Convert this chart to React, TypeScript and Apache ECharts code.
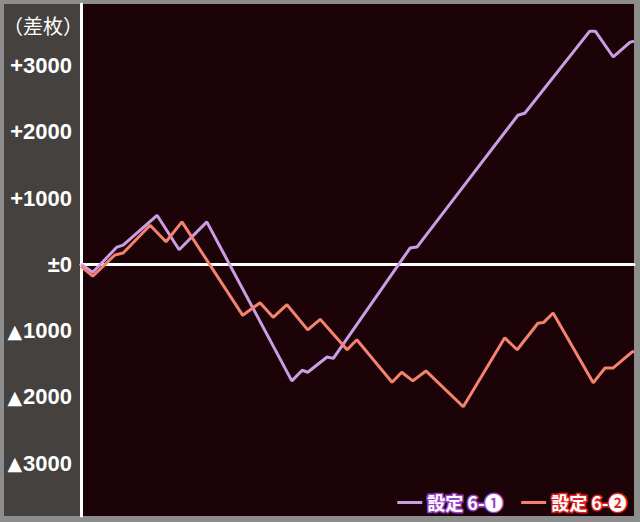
import React, { useEffect, useRef } from "react";
import * as echarts from "echarts";

// x: games (estimated), y: coin difference
const series1Name = "設定 6-❶";
const series2Name = "設定 6-❷";

const series1X = [0, 170, 520, 610, 1100, 1420, 1820, 3050, 3200, 3280, 3560, 3650, 4760, 4860, 6320, 6420, 7360, 7440, 7700, 7940, 8000];
const series1Y = [0, -120, 260, 290, 740, 220, 640, -1760, -1600, -1630, -1400, -1420, 245, 260, 2250, 2280, 3520, 3520, 3130, 3350, 3370];

const series2X = [0, 170, 490, 610, 1000, 1230, 1460, 2340, 2590, 2780, 2980, 3280, 3460, 3850, 3990, 4500, 4640, 4800, 4990, 5530, 6130, 6310, 6610, 6690, 6830, 7410, 7580, 7700, 7970, 8000];
const series2Y = [-30, -180, 140, 170, 590, 340, 640, -770, -580, -800, -610, -990, -830, -1290, -1140, -1780, -1630, -1760, -1610, -2150, -1110, -1290, -890, -880, -735, -1790, -1565, -1565, -1325, -1310];

const yTicks = [3000, 2000, 1000, 0, -1000, -2000, -3000];

function fmtY(v: number): string {
  if (!yTicks.includes(v)) return "";
  if (v > 0) return "+" + v;
  if (v === 0) return "±0";
  return "{t|▲}" + -v;
}

export default function App() {
  const ref = useRef<HTMLDivElement>(null);
  useEffect(() => {
    if (!ref.current) return;
    const chart = echarts.init(ref.current, undefined, { renderer: "svg" });
    const d1 = series1X.map((x, i) => [x, series1Y[i]]);
    const d2 = series2X.map((x, i) => [x, series2Y[i]]);
    chart.setOption({
      animation: false,
      backgroundColor: "#8d8d8d",
      graphic: [
        {
          type: "rect",
          z: -10,
          shape: { x: 4, y: 4, width: 78, height: 512 },
          style: { fill: "#45413e" },
        },
        {
          type: "text",
          z: 10,
          x: 43,
          y: 25,
          style: {
            text: "（差枚）",
            fill: "#ffffff",
            font: '20px "Noto Sans CJK JP", sans-serif',
            align: "center",
            verticalAlign: "middle",
          },
        },
      ],
      grid: {
        left: 81,
        right: 6,
        top: 4,
        bottom: 6,
        show: true,
        backgroundColor: "#1b0307",
        borderWidth: 0,
      },
      legend: {
        right: 7,
        top: 487,
        icon: "rect",
        itemWidth: 25,
        itemHeight: 3,
        itemGap: 17,
        textStyle: {
          fontFamily: '"Noto Sans CJK JP", sans-serif',
          fontWeight: "bold",
          fontSize: 18,
          color: "#ffffff",
        },
        data: [
          {
            name: series1Name,
            textStyle: { color: "#ffffff", textBorderColor: "#9a40c8", textBorderWidth: 3 },
          },
          {
            name: series2Name,
            textStyle: { color: "#ffffff", textBorderColor: "#e0201c", textBorderWidth: 3 },
          },
        ],
      },
      xAxis: {
        type: "value",
        min: 0,
        max: 8000,
        axisLine: { show: true, onZero: true, lineStyle: { color: "#ffffff", width: 3 } },
        axisTick: { show: false },
        axisLabel: { show: false },
        splitLine: { show: false },
      },
      yAxis: {
        type: "value",
        min: -3800,
        max: 3930,
        interval: 200,
        axisLine: { show: true, lineStyle: { color: "#ffffff", width: 3 } },
        axisTick: { show: false },
        splitLine: { show: false },
        axisLabel: {
          color: "#ffffff",
          fontSize: 22,
          fontWeight: "bold",
          fontFamily: '"Liberation Sans", Arial, sans-serif',
          margin: 9,
          formatter: fmtY,
          showMinLabel: false,
          showMaxLabel: false,
          rich: {
            t: {
              color: "#ffffff",
              fontSize: 19,
              fontFamily: '"DejaVu Sans", sans-serif',
              padding: [0, 1, 0, 0],
            },
          },
        },
      },
      series: [
        {
          name: series1Name,
          type: "line",
          data: d1,
          showSymbol: false,
          color: "#cc9de4",
          lineStyle: { width: 3, color: "#cc9de4" },
        },
        {
          name: series2Name,
          type: "line",
          data: d2,
          showSymbol: false,
          color: "#f5826f",
          lineStyle: { width: 3, color: "#f5826f" },
        },
      ],
    });
    return () => chart.dispose();
  }, []);
  return (
    <div
      ref={ref}
      style={{ position: "absolute", left: 0, top: 0, width: 640, height: 522 }}
    />
  );
}
